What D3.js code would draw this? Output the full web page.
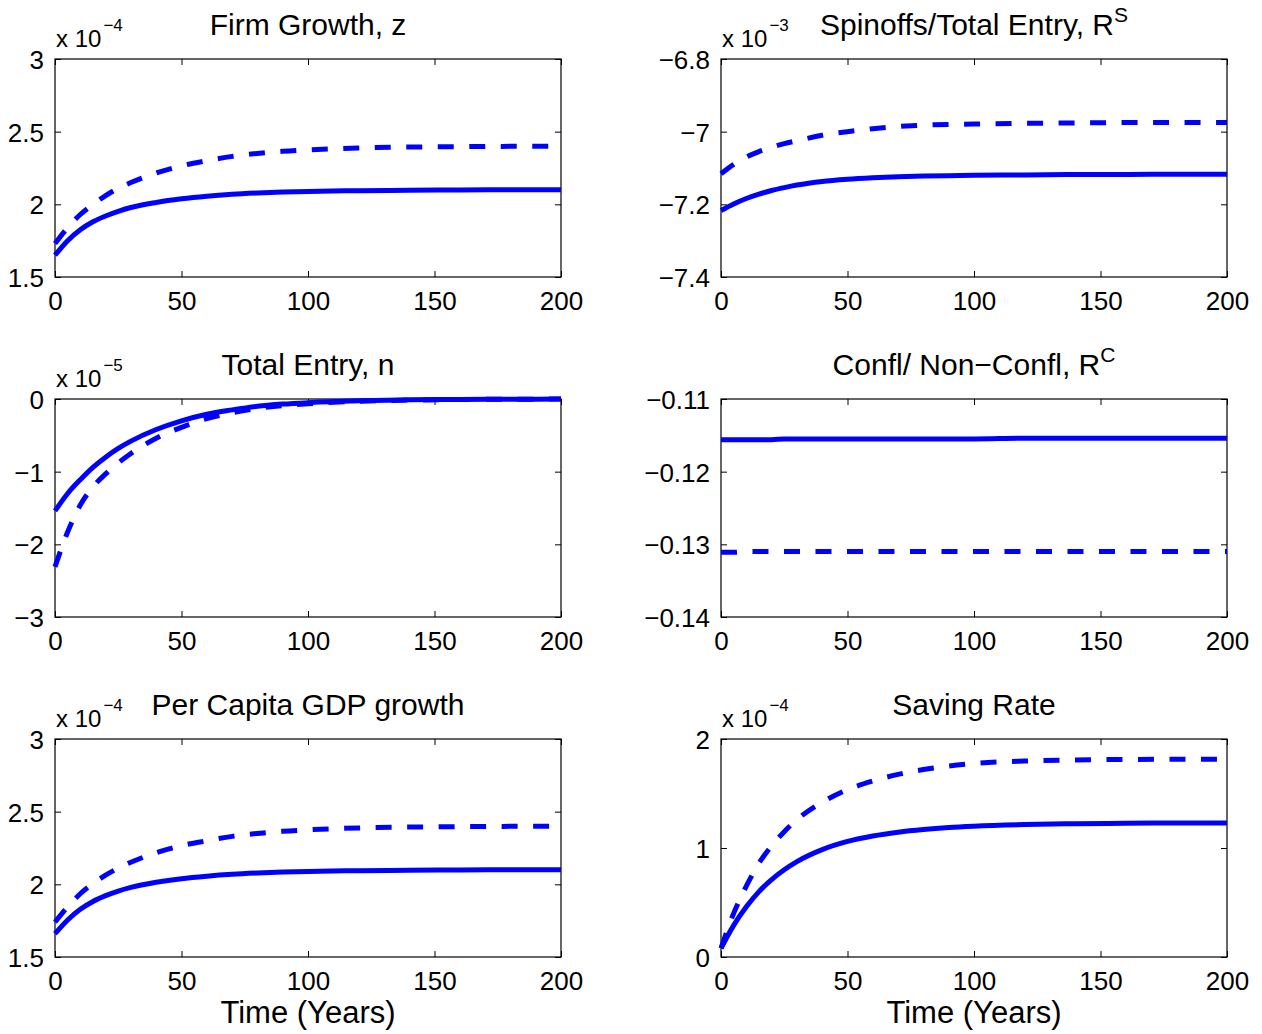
<!DOCTYPE html>
<html>
<head>
<meta charset="utf-8">
<script src="https://cdn.jsdelivr.net/npm/d3@7"></script>
<style>
  body { margin: 0; background: #fff; }
  svg { display: block; font-family: "Liberation Sans", Arial, Helvetica, sans-serif; }
</style>
</head>
<body>
<svg id="chart" width="1262" height="1034"></svg>
<script>
// time grid (years)
var years = [0, 5, 10, 15, 20, 25, 30, 40, 50, 60, 70, 80, 90, 100, 120, 140, 160, 180, 200];
var xTicks = [0, 50, 100, 150, 200];

// Firm growth, z (x 1e-4)
var zSolid  = [1.65, 1.75, 1.825, 1.88, 1.92, 1.952, 1.978, 2.013, 2.038, 2.056, 2.069, 2.078, 2.085, 2.089, 2.094, 2.097, 2.099, 2.10, 2.10];
var zDashed = [1.73, 1.84, 1.93, 2.00, 2.06, 2.11, 2.15, 2.215, 2.265, 2.30, 2.33, 2.35, 2.365, 2.375, 2.388, 2.394, 2.397, 2.399, 2.40];
var zTicks = [1.5, 2, 2.5, 3];

// Spinoffs / total entry, R^S (x 1e-3)
var rsSolid  = [-7.217, -7.199, -7.184, -7.172, -7.162, -7.154, -7.147, -7.137, -7.131, -7.127, -7.124, -7.122, -7.121, -7.120, -7.119, -7.118, -7.118, -7.117, -7.117];
var rsDashed = [-7.116, -7.090, -7.070, -7.055, -7.043, -7.033, -7.025, -7.010, -7.000, -6.992, -6.986, -6.982, -6.980, -6.979, -6.977, -6.976, -6.975, -6.975, -6.975];
var rsTicks = [-7.4, -7.2, -7, -6.8];

// Total entry, n (x 1e-5)
var nSolid  = [-1.54, -1.30, -1.11, -0.94, -0.80, -0.68, -0.58, -0.42, -0.30, -0.21, -0.15, -0.10, -0.07, -0.05, -0.025, -0.012, -0.006, -0.003, -0.001];
var nDashed = [-2.31, -1.83, -1.46, -1.21, -1.03, -0.88, -0.75, -0.54, -0.39, -0.27, -0.19, -0.13, -0.09, -0.065, -0.03, -0.015, -0.007, -0.003, -0.001];
var nTicks = [-3, -2, -1, 0];

// Confl / non-confl, R^C
var rcSolid  = [-0.1156, -0.1156, -0.1156, -0.1156, -0.1156, -0.1155, -0.1155, -0.1155, -0.1155, -0.1155, -0.1155, -0.1155, -0.1155, -0.1155, -0.1154, -0.1154, -0.1154, -0.1154, -0.1154];
var rcDashed = [-0.1311, -0.1311, -0.1310, -0.1310, -0.1310, -0.1310, -0.1310, -0.1310, -0.1310, -0.1310, -0.1310, -0.1310, -0.1310, -0.1310, -0.1310, -0.1310, -0.1310, -0.1310, -0.1310];
var rcTicks = [-0.14, -0.13, -0.12, -0.11];

// Per capita GDP growth (x 1e-4)
var gdpSolid  = [1.66, 1.755, 1.828, 1.882, 1.922, 1.954, 1.979, 2.014, 2.039, 2.056, 2.069, 2.078, 2.085, 2.089, 2.094, 2.097, 2.099, 2.10, 2.10];
var gdpDashed = [1.74, 1.845, 1.935, 2.005, 2.063, 2.112, 2.152, 2.217, 2.266, 2.30, 2.33, 2.35, 2.365, 2.375, 2.388, 2.394, 2.397, 2.399, 2.40];
var gdpTicks = [1.5, 2, 2.5, 3];

// Saving rate (x 1e-4)
var savSolid  = [0.08, 0.29, 0.46, 0.60, 0.71, 0.80, 0.875, 0.985, 1.06, 1.11, 1.145, 1.17, 1.188, 1.20, 1.215, 1.223, 1.227, 1.229, 1.23];
var savDashed = [0.08, 0.40, 0.65, 0.86, 1.02, 1.15, 1.26, 1.42, 1.535, 1.615, 1.675, 1.72, 1.752, 1.775, 1.798, 1.808, 1.812, 1.814, 1.815];
var savTicks = [0, 1, 2];

var panels = [
  {title: "Firm Growth, z", sup: null, exp: "−4", solid: zSolid, dashed: zDashed, ticks: zTicks, col: 0, row: 0},
  {title: "Spinoffs/Total Entry, R", sup: "S", exp: "−3", solid: rsSolid, dashed: rsDashed, ticks: rsTicks, col: 1, row: 0},
  {title: "Total Entry, n", sup: null, exp: "−5", solid: nSolid, dashed: nDashed, ticks: nTicks, col: 0, row: 1},
  {title: "Confl/ Non−Confl, R", sup: "C", exp: null, solid: rcSolid, dashed: rcDashed, ticks: rcTicks, col: 1, row: 1},
  {title: "Per Capita GDP growth", sup: null, exp: "−4", solid: gdpSolid, dashed: gdpDashed, ticks: gdpTicks, col: 0, row: 2, xlabel: true},
  {title: "Saving Rate", sup: null, exp: "−4", solid: savSolid, dashed: savDashed, ticks: savTicks, col: 1, row: 2, xlabel: true}
];

var svg = d3.select("#chart");
var colX = [55, 721], rowY = [59, 399, 739];
var W = 506, H = 218, tickLen = 6;
var blue = "#0000ff";

function fmt(v) {
  return String(v).replace("-", "−");
}

panels.forEach(function (p) {
  var g = svg.append("g")
    .attr("transform", "translate(" + colX[p.col] + "," + rowY[p.row] + ")");

  var x = d3.scaleLinear().domain([0, 200]).range([0, W]);
  var y = d3.scaleLinear().domain(d3.extent(p.ticks)).range([H, 0]);

  // axes: bottom/left labelled, top/right ticks only (ticks point inward)
  var bottom = g.append("g").attr("transform", "translate(0," + H + ")")
    .call(d3.axisBottom(x).tickValues(xTicks).tickSizeInner(-tickLen).tickSizeOuter(0).tickPadding(8).tickFormat(fmt));
  var left = g.append("g")
    .call(d3.axisLeft(y).tickValues(p.ticks).tickSizeInner(-tickLen).tickSizeOuter(0).tickPadding(11).tickFormat(fmt));
  var top = g.append("g")
    .call(d3.axisTop(x).tickValues(xTicks).tickSizeInner(-tickLen).tickSizeOuter(0).tickFormat(""));
  var right = g.append("g").attr("transform", "translate(" + W + ",0)")
    .call(d3.axisRight(y).tickValues(p.ticks).tickSizeInner(-tickLen).tickSizeOuter(0).tickFormat(""));

  [bottom, left, top, right].forEach(function (a) {
    a.select(".domain").remove();
    a.selectAll("line").attr("stroke", "#000").attr("stroke-width", 1);
    a.selectAll("text").attr("fill", "#000").style("font-size", "26px")
      .attr("font-family", "Liberation Sans, Arial, sans-serif");
  });
  bottom.selectAll("text").attr("dy", "0.95em");
  left.selectAll("text").attr("dy", "0.36em");

  g.append("rect").attr("width", W).attr("height", H)
    .attr("fill", "none").attr("stroke", "#000").attr("stroke-width", 1.2);

  var line = d3.line()
    .x(function (d, i) { return x(years[i]); })
    .y(function (d) { return y(d); })
    .curve(d3.curveMonotoneX);

  g.append("path").datum(p.dashed)
    .attr("d", line).attr("fill", "none").attr("stroke", blue)
    .attr("stroke-width", 5).attr("stroke-dasharray", "16,15.5");
  g.append("path").datum(p.solid)
    .attr("d", line).attr("fill", "none").attr("stroke", blue)
    .attr("stroke-width", 5);

  // title
  var t = g.append("text").attr("x", W / 2).attr("y", -24)
    .attr("text-anchor", "middle").style("font-size", "30px").text(p.title);
  if (p.sup) {
    t.append("tspan").attr("dy", -13).style("font-size", "21px").text(p.sup);
  }

  // exponent multiplier
  if (p.exp) {
    var e = g.append("text").attr("x", 1).attr("y", -12).style("font-size", "24px").text("x 10");
    e.append("tspan").attr("dy", -16).attr("dx", 2).style("font-size", "17px").text(p.exp);
  }

  if (p.xlabel) {
    g.append("text").attr("x", W / 2).attr("y", H + 66)
      .attr("text-anchor", "middle").style("font-size", "31px").text("Time (Years)");
  }
});
</script>
</body>
</html>
